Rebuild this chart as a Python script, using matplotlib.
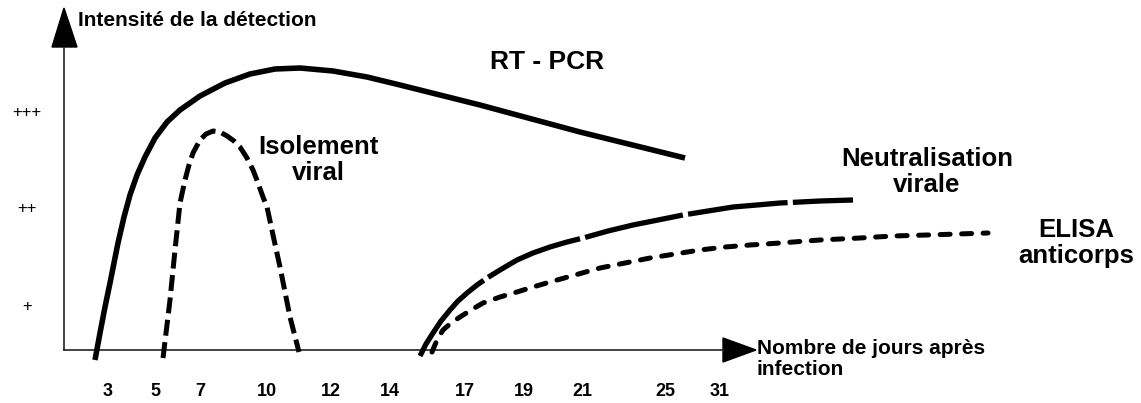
import matplotlib
matplotlib.use("Agg")
import matplotlib.pyplot as plt
from matplotlib.patches import Polygon

plt.rcParams["font.family"] = ["Liberation Sans", "DejaVu Sans"]

# horizontal position (px from left) and height above the time axis (px)
rt_x = [95, 100, 105, 110, 118, 124, 130, 137, 145, 155, 167, 180, 200, 225, 250,
        275, 300, 333, 367, 400, 480, 580, 685]
rt_y = [-10, 17, 43, 67, 107, 133, 155, 175, 193, 212, 228, 240, 254, 267, 276,
        281, 282, 279, 273, 265, 245, 218, 192]

iso_x = [163, 170, 175, 180, 185, 189, 193, 200, 206, 213, 220, 227, 234, 240, 247,
         253, 258, 263, 267, 273, 280, 290, 299]
iso_y = [-8, 50, 100, 147, 170, 185, 197, 210, 216, 219, 218, 214, 209, 203, 192,
         180, 167, 153, 143, 115, 83, 33, -2]

neu_x = [420, 426, 433, 441, 450, 458, 467, 477, 487, 500, 517, 533, 550, 567, 583,
         608, 633, 658, 683, 708, 733, 757, 780, 820, 853]
neu_y = [-6, 6, 17, 29, 40, 49, 57, 65, 72, 80, 90, 97, 103, 108, 112,
         119, 125, 130, 135, 139, 143, 145, 147, 149, 150]

eli_x = [432, 437, 443, 451, 460, 471, 483, 500, 517, 533, 550, 575, 600, 625, 650,
         675, 700, 725, 750, 780, 820, 860, 893, 927, 958, 988]
eli_y = [-2, 10, 20, 27, 33, 40, 47, 53, 58, 63, 68, 75, 82, 87, 92,
         96, 100, 103, 105, 107, 110, 112, 114, 115, 116, 117]

tick_pos = [108, 155, 200, 267, 331, 390, 465, 524, 582, 665, 720]
tick_lab = ["3", "5", "7", "10", "12", "14", "17", "19", "21", "25", "31"]

level_y = [238, 142, 43]
level_lab = ["+++", "++", "+"]

fig = plt.figure(figsize=(11.41, 4.03), dpi=100)
ax = fig.add_axes([0, 0, 1, 1])
ax.set_xlim(0, 1141)
ax.set_ylim(-53, 350)
ax.axis("off")

# axes with arrow heads
ax.plot([64, 64], [0, 303], color="#222222", lw=1.2)
ax.plot([64, 724], [0, 0], color="#222222", lw=1.2)
ax.add_patch(Polygon([[52, 303], [77, 303], [64, 342]], closed=True, color="black"))
ax.add_patch(Polygon([[723, 12], [723, -12], [756, 0]], closed=True, color="black"))

ax.plot(rt_x, rt_y, color="black", lw=4.0, solid_capstyle="butt",
        solid_joinstyle="round")
ax.plot(iso_x, iso_y, color="black", lw=3.6, linestyle=(0, (3.2, 1.3)))
ax.plot(neu_x, neu_y, color="black", lw=3.8, linestyle=(0, (19, 1)))
ax.plot(eli_x, eli_y, color="black", lw=3.6, linestyle=(0, (2.0, 2.3)),
        dash_capstyle="round")

ax.text(78, 330, "Intensité de la détection", fontsize=15, fontweight="bold",
        ha="left", va="center")
ax.text(547, 288, "RT - PCR", fontsize=19, fontweight="bold", ha="center", va="center")
ax.text(318, 190, "Isolement\nviral", fontsize=18.5, fontweight="bold",
        ha="center", va="center", linespacing=1.1)
ax.text(927, 178, "Neutralisation\nvirale", fontsize=18.5, fontweight="bold",
        ha="center", va="center", linespacing=1.1)
ax.text(1076, 107, "ELISA\nanticorps", fontsize=18.5, fontweight="bold",
        ha="center", va="center", linespacing=1.1)
ax.text(757, -9, "Nombre de jours après\ninfection", fontsize=15, fontweight="bold",
        ha="left", va="center", linespacing=1.1)

for p, lab in zip(tick_pos, tick_lab):
    ax.text(p, -41, lab, fontsize=13, fontweight="bold", ha="center", va="center")

for v, lab in zip(level_y, level_lab):
    ax.text(27, v, lab, fontsize=12, ha="center", va="center")

fig.savefig("out.png", dpi=100, facecolor="white")
